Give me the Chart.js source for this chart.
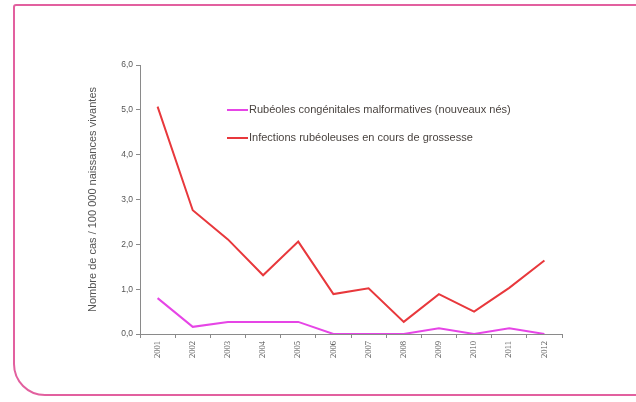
<!DOCTYPE html>
<html>
<head>
<meta charset="utf-8">
<script src="https://cdn.jsdelivr.net/npm/chart.js@4.4.0/dist/chart.umd.min.js"></script>
<style>
  html, body { margin: 0; padding: 0; background: #fff; }
  #wrap { position: relative; width: 636px; height: 402px; overflow: hidden; }
  #frame {
    position: absolute; left: 13px; top: 4px; width: 660px; height: 392px;
    border: 2px solid #e2609f; border-radius: 3px 32px 0 32px;
    box-sizing: border-box; pointer-events: none;
  }
  canvas { position: absolute; left: 0; top: 0; }
</style>
</head>
<body>
<div id="wrap">
  <canvas id="chart" width="636" height="402"></canvas>
  <div id="frame"></div>
</div>
<script>
const years = ['2001', '2002', '2003', '2004', '2005', '2006', '2007', '2008', '2009', '2010', '2011', '2012'];
const congenital = [0.80, 0.16, 0.27, 0.27, 0.27, 0.0, 0.0, 0.0, 0.13, 0.0, 0.13, 0.0];
const pregnancy = [5.07, 2.76, 2.11, 1.31, 2.06, 0.89, 1.02, 0.27, 0.89, 0.50, 1.03, 1.64];
const labelCongenital = 'Rubéoles congénitales malformatives (nouveaux nés)';
const labelPregnancy = 'Infections rubéoleuses en cours de grossesse';
const yTitle = 'Nombre de cas / 100 000 naissances vivantes';

// legend drawn inside the plot, no box
const insideLegend = {
    id: 'insideLegend',
    afterDraw(chart) {
        const ctx = chart.ctx;
        const rows = [110, 138];
        ctx.save();
        chart.data.datasets.forEach((ds, i) => {
            const y = rows[i];
            ctx.strokeStyle = ds.borderColor;
            ctx.lineWidth = 2;
            ctx.beginPath();
            ctx.moveTo(227, y);
            ctx.lineTo(248, y);
            ctx.stroke();
            ctx.fillStyle = '#4a4440';
            ctx.font = '11px "Liberation Sans", Arial, sans-serif';
            ctx.textBaseline = 'middle';
            ctx.fillText(ds.label, 249, y);
        });
        ctx.restore();
    }
};

new Chart(document.getElementById('chart'), {
    type: 'line',
    data: {
        labels: years,
        datasets: [
            {
                label: labelCongenital,
                data: congenital,
                borderColor: '#e645e6',
                backgroundColor: '#e645e6',
                borderWidth: 2,
                pointRadius: 0,
                tension: 0,
                fill: false,
            },
            {
                label: labelPregnancy,
                data: pregnancy,
                borderColor: '#e8383c',
                backgroundColor: '#e8383c',
                borderWidth: 2,
                pointRadius: 0,
                tension: 0,
                fill: false,
            },
        ]
    },
    plugins: [insideLegend],
    options: {
        responsive: false,
        animation: false,
        layout: { padding: { left: 80, top: 65, right: 74, bottom: 0 } },
        plugins: {
            legend: { display: false },
            tooltip: { enabled: false },
        },
        scales: {
            x: {
                offset: true,
                afterFit: (scale) => { scale.height = 68; },
                grid: { drawOnChartArea: false, offset: true, tickLength: 4, color: '#8a8a8a' },
                border: { color: '#8a8a8a', width: 1 },
                ticks: {
                    minRotation: 90,
                    maxRotation: 90,
                    padding: 3,
                    color: '#555',
                    font: { family: '"Liberation Serif", "Times New Roman", serif', size: 8.5 },
                },
            },
            y: {
                min: 0,
                max: 6,
                afterFit: (scale) => { scale.width = 60; },
                grid: { drawOnChartArea: false, tickLength: 4, color: '#8a8a8a' },
                border: { color: '#8a8a8a', width: 1 },
                ticks: {
                    stepSize: 1,
                    padding: 3,
                    color: '#555',
                    font: { family: '"Liberation Sans", Arial, sans-serif', size: 8.5 },
                    callback: (v) => v.toFixed(1).replace('.', ','),
                },
                title: {
                    display: true,
                    text: yTitle,
                    color: '#555',
                    padding: { top: 6, bottom: 0 },
                    font: { family: '"Liberation Sans", Arial, sans-serif', size: 11 },
                },
            }
        }
    }
});
</script>
</body>
</html>
